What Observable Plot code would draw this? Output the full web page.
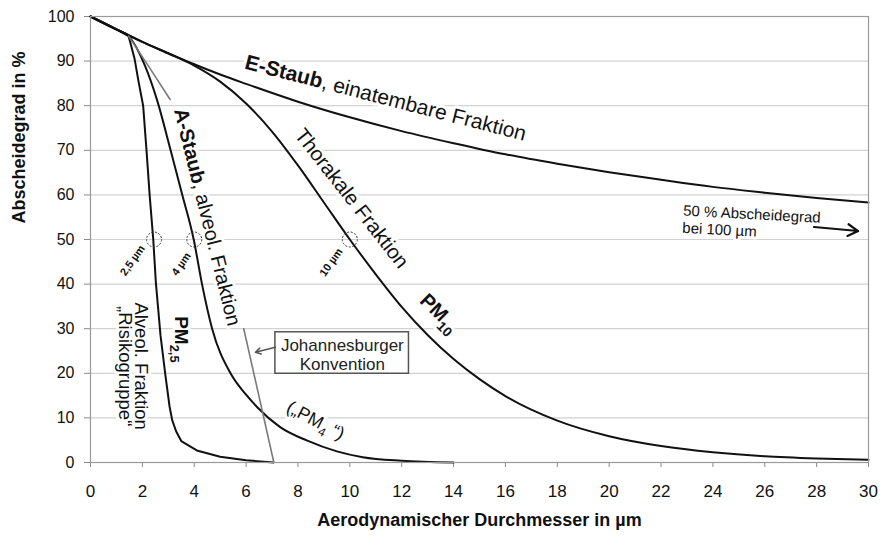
<!DOCTYPE html>
<html><head><meta charset="utf-8">
<script src="https://cdn.jsdelivr.net/npm/d3@7"></script>
<script src="https://cdn.jsdelivr.net/npm/@observablehq/plot@0.6"></script>
<style>
body{margin:0;background:#fff;}
#chart{width:880px;height:537px;}
</style></head><body><div id="chart"></div>
<script>
// ---------- data ----------
const xTicks = [0,2,4,6,8,10,12,14,16,18,20,22,24,26,28,30];
const yTicks = [0,10,20,30,40,50,60,70,80,90,100];

// E-Staub, einatembare Fraktion
const eStaubX = [0,1,1.47,2,3,4,5,6,8,10,12,14,16,18,20,22,24,26,28,30];
const eStaubY = [100,97.1,95.8,94.3,91.8,89.3,87.0,84.9,80.9,77.4,74.3,71.6,69.1,67.0,65.1,63.4,61.8,60.5,59.3,58.3];

// Thorakale Fraktion (PM10)
const thoraxX = [0,1,1.47,2,3,4,5,6,7,8,9,10,11,12,13,14,15,16,18,20,22,24,26,28,30];
const thoraxY = [100,97.1,95.8,94.3,91.7,89.0,85.4,80.5,74.2,66.6,58.3,50.0,42.2,34.9,28.6,23.2,18.7,14.9,9.4,5.9,3.7,2.3,1.4,0.9,0.6];

// A-Staub, alveolengängige Fraktion
const aStaubX = [0,1,1.47,2.1,2.57,3.09,3.53,3.98,4.3,4.69,5.4,6,6.43,7.3,8.36,9.5,10.5,12,14];
const aStaubY = [100,97.1,95.6,89,81.2,70,60.2,50,40,30,20,15.2,12.4,8,4.9,2.5,1.2,0.4,0];

// PM2,5 – alveolengängige Fraktion "Risikogruppe"
const pm25X = [0,1,1.47,1.7,1.85,2.03,2.16,2.28,2.42,2.52,2.7,2.89,3.05,3.15,3.3,3.5,4.1,5,6,7.06];
const pm25Y = [100,97.1,95.6,90.5,85.5,80,70,60,50,40.4,28.5,19.5,12.5,9.5,7,4.8,2.7,1.3,0.5,0];

// Johannesburger Konvention (visible parts only)
const jhbUpperX = [1.47,2.3,3.07];
const jhbUpperY = [95.6,88.3,81.4];
const jhbLowerX = [5.91,7.07];
const jhbLowerY = [30,0];

// 50 %-points marked with dashed circles
const cutX = [2.45,4,10];
const cutY = [50,50,50];

// ---------- build tables ----------
const zipXY = (xs, ys) => xs.map((x, i) => ({x, y: ys[i]}));
const eStaub = zipXY(eStaubX, eStaubY);
const thorax = zipXY(thoraxX, thoraxY);
const aStaub = zipXY(aStaubX, aStaubY);
const pm25 = zipXY(pm25X, pm25Y);
const jhbUpper = zipXY(jhbUpperX, jhbUpperY);
const jhbLower = zipXY(jhbLowerX, jhbLowerY);
const cuts = zipXY(cutX, cutY);

// ---------- annotations ----------
const FONT = '"Liberation Sans", Arial, Helvetica, sans-serif';
const labels = [
  {text: "**E-Staub**, einatembare Fraktion", x: 11.38, y: 81.7, rotate: 14.5, size: 21},
  {text: "Thorakale Fraktion", x: 10.07, y: 59.2, rotate: 52, size: 20.5},
  {text: "PM_{10}", x: 13.45, y: 33.5, rotate: 45, size: 20, weight: "bold"},
  {text: "**A-Staub**, alveol. Fraktion", x: 4.5, y: 55.0, rotate: 76, size: 20},
  {text: "PM_{2,5}", x: 3.51, y: 27.6, rotate: 90, size: 19, weight: "bold"},
  {text: "Alveol. Fraktion\n„Risikogruppe“", x: 1.6, y: 21.6, rotate: 90, size: 18.5, lineHeight: 0.85},
  {text: "2,5 µm", x: 1.62, y: 45.3, rotate: -55, size: 11, weight: "bold", halo: 2},
  {text: "4 µm", x: 3.5, y: 44.5, rotate: -55, size: 11, weight: "bold", halo: 2},
  {text: "10 µm", x: 9.28, y: 44.9, rotate: -55, size: 11, weight: "bold", halo: 2},
  {text: "(„PM_{4} “)", x: 8.68, y: 9.4, rotate: 28, size: 18},
  {text: "50 % Abscheidegrad\nbei 100 µm", x: 22.87, y: 58.1, rotate: 3, size: 15, anchor: "start", lineAnchor: "top", lineHeight: 1.15}
];
const box = [{x1: 7.13, x2: 12.28, y1: 19.9, y2: 29.2, text: "Johannesburger\nKonvention", x: 9.71, y: 24.2}];
const arrowsGray = [{x1: 7.13, y1: 25.85, x2: 6.36, y2: 24.7}];
const arrowsBlack = [{x1: 27.9, y1: 52.8, x2: 29.6, y2: 51.9}];

function textMark(d, halo) {
  const o = {
    x: "x", y: "y", text: "text",
    rotate: d.rotate, fontSize: d.size, fontFamily: FONT,
    fontWeight: d.weight || "normal",
    textAnchor: d.anchor || "middle",
    lineAnchor: d.lineAnchor || "middle",
    lineHeight: d.lineHeight || 1
  };
  if (halo) Object.assign(o, {fill: "white", stroke: "white", strokeWidth: d.halo || 6, strokeLinejoin: "round"});
  else Object.assign(o, {fill: "#111"});
  return Plot.text([d], o);
}

const curveStyle = {x: "x", y: "y", stroke: "#111", strokeWidth: 2, curve: "monotone-x"};

const chart = Plot.plot({
  width: 880, height: 537,
  marginLeft: 90, marginRight: 12, marginTop: 16, marginBottom: 75,
  style: {fontFamily: FONT, fontSize: "15px", background: "#fff", color: "#111"},
  x: {domain: [0, 30], ticks: xTicks, tickSize: 5, tickPadding: 17, label: null},
  y: {domain: [0, 100], ticks: yTicks, tickSize: 6, tickPadding: 10, label: null},
  marks: [
    Plot.ruleY(yTicks.filter(v => v > 0 && v < 100), {stroke: "#d2d2d2", strokeWidth: 1.2}),
    ...labels.map(d => textMark(d, true)),
    Plot.line(eStaub, curveStyle),
    Plot.line(thorax, curveStyle),
    Plot.line(aStaub, curveStyle),
    Plot.line(pm25, {...curveStyle, curve: "linear"}),
    Plot.line(jhbUpper, {x: "x", y: "y", stroke: "#7a7a7a", strokeWidth: 1.6}),
    Plot.line(jhbLower, {x: "x", y: "y", stroke: "#7a7a7a", strokeWidth: 1.6}),
    Plot.dot(cuts, {x: "x", y: "y", r: 7.5, stroke: "#333", strokeWidth: 1, strokeDasharray: "2,1.6", fill: "none"}),
    Plot.rect(box, {x1: "x1", x2: "x2", y1: "y1", y2: "y2", fill: "white", stroke: "#555", strokeWidth: 1.5}),
    Plot.text(box, {x: "x", y: "y", text: "text", fontSize: 17, lineHeight: 1.08, fill: "#222", fontFamily: FONT}),
    Plot.arrow(arrowsGray, {x1: "x1", y1: "y1", x2: "x2", y2: "y2", stroke: "#555", strokeWidth: 1.5, headLength: 6}),
    Plot.arrow(arrowsBlack, {x1: "x1", y1: "y1", x2: "x2", y2: "y2", stroke: "#111", strokeWidth: 2.2, headLength: 8}),
    ...labels.map(d => textMark(d, false)),
    Plot.frame({stroke: "#9a9a9a", strokeWidth: 1.2}),
    Plot.text(["Abscheidegrad in %"], {text: d => d, frameAnchor: "left", rotate: -90, dx: -71, dy: -16, fontWeight: "bold", fontSize: 18, fill: "#111"}),
    Plot.text(["Aerodynamischer Durchmesser in µm"], {text: d => d, frameAnchor: "bottom", dy: 63, fontWeight: "bold", fontSize: 18, fill: "#111"})
  ]
});
document.getElementById("chart").appendChild(chart);

// ---------- rich text: **bold** and _{subscript} ----------
const NS = "http://www.w3.org/2000/svg";
function richify(el) {
  const s = el.textContent;
  if (!/\*\*|_\{/.test(s)) return;
  const fs = parseFloat(getComputedStyle(el).fontSize);
  while (el.firstChild) el.removeChild(el.firstChild);
  const re = /\*\*([^*]+)\*\*|_\{([^}]+)\}|([^*_]+)/g;
  let m, pending = 0;
  while ((m = re.exec(s))) {
    const t = document.createElementNS(NS, "tspan");
    if (m[2] !== undefined) {
      t.textContent = m[2];
      t.setAttribute("font-size", (fs * 0.68) + "px");
      t.setAttribute("dy", (fs * 0.3) + "px");
      pending = fs * 0.3;
    } else {
      t.textContent = m[1] !== undefined ? m[1] : m[3];
      if (m[1] !== undefined) t.setAttribute("font-weight", "bold");
      if (pending) { t.setAttribute("dy", (-pending) + "px"); pending = 0; }
    }
    el.appendChild(t);
  }
}
chart.querySelectorAll("text").forEach(richify);

// ---------- axis styling ----------
chart.querySelectorAll('[aria-label^="x-axis"], [aria-label^="y-axis"]').forEach(g => { g.style.color = "#8a8a8a"; });
chart.querySelectorAll('[aria-label^="x-axis"] text').forEach(t => {
  t.setAttribute("fill", "#111");
  t.style.fontSize = "17px";
  t.style.fontFamily = '"Liberation Sans Narrow", "Liberation Sans", Arial, sans-serif';
});
chart.querySelectorAll('[aria-label^="y-axis"] text').forEach(t => {
  t.setAttribute("fill", "#111");
  t.style.fontSize = "16px";
});
</script></body></html>
